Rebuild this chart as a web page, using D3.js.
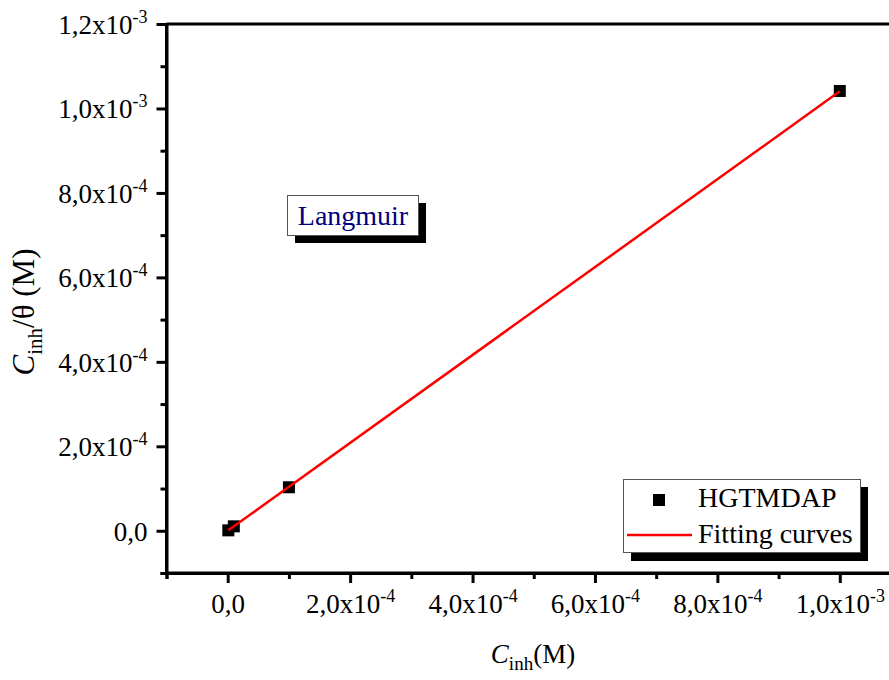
<!DOCTYPE html>
<html>
<head>
<meta charset="utf-8">
<script src="https://cdn.jsdelivr.net/npm/d3@7"></script>
<style>
  body { margin: 0; background: #fff; }
  svg { display: block; }
  text { font-family: "Liberation Serif", "Times New Roman", serif; fill: #000; }
</style>
</head>
<body>
<div id="chart"></div>
<script>
// data
var conc = [1e-6, 1e-5, 1e-4, 1e-3];              // C_inh (M)
var ratio = [1.0e-6, 1.05e-5, 1.03e-4, 1.0414e-3]; // C_inh/theta (M)
var fitSlope = 1.0405;
var fitIntercept = 0;

var xMajor = [0, 2e-4, 4e-4, 6e-4, 8e-4, 1e-3];
var xMinor = [-1e-4, 1e-4, 3e-4, 5e-4, 7e-4, 9e-4, 1.1e-3];
var yMajor = [0, 2e-4, 4e-4, 6e-4, 8e-4, 1e-3, 1.2e-3];
var yMinor = [-1e-4, 1e-4, 3e-4, 5e-4, 7e-4, 9e-4, 1.1e-3];

var serif = "'Liberation Serif', 'Times New Roman', serif";
var svgWidth = 889;
var svgHeight = 680;

var svg = d3.select("#chart")
  .append("svg")
  .attr("width", svgWidth)
  .attr("height", svgHeight)
  .attr("font-family", serif);

var x = d3.scaleLinear()
  .domain([-1e-4, 1.1e-3])
  .range([166.5, 901]);

var y = d3.scaleLinear()
  .domain([-1e-4, 1.2e-3])
  .range([573, 24]);

// "1,2x10^-3" style labels
function sciLabel(sel) {
  sel.each(function(d) {
    var t = d3.select(this).text("");
    if (d === 0) { t.append("tspan").text("0,0"); return; }
    var e = Math.floor(Math.log10(Math.abs(d)) + 1e-9);
    var m = d / Math.pow(10, e);
    t.append("tspan").text(m.toFixed(1).replace(".", ",") + "x10");
    t.append("tspan").attr("dy", -11).attr("font-size", 18).text(e);
  });
}

// y axis
var yAxis = svg.append("g")
  .attr("transform", "translate(166.5,0)")
  .call(d3.axisLeft(y).tickValues(yMajor).tickSize(10).tickPadding(9).tickFormat(""));
yAxis.append("g")
  .call(d3.axisLeft(y).tickValues(yMinor).tickSize(6).tickFormat(""));
yAxis.attr("font-family", serif);
yAxis.selectAll("line, path").attr("stroke", "#000").attr("stroke-width", 3);
yAxis.select(".domain").attr("d", "M0," + y(-1e-4) + "V" + y(1.2e-3));
yAxis.selectAll("g.tick").filter(function(d) { return yMajor.indexOf(d) >= 0; })
  .append("text")
  .attr("x", -19)
  .attr("dy", "0.35em")
  .attr("text-anchor", "end")
  .attr("font-size", 27)
  .each(function(d) { sciLabel(d3.select(this)); });

// x axis
var xAxis = svg.append("g")
  .attr("transform", "translate(0,573)")
  .call(d3.axisBottom(x).tickValues(xMajor).tickSize(10).tickFormat(""));
xAxis.append("g")
  .call(d3.axisBottom(x).tickValues(xMinor).tickSize(6).tickFormat(""));
xAxis.attr("font-family", serif);
xAxis.selectAll("line, path").attr("stroke", "#000").attr("stroke-width", 3);
xAxis.select(".domain").attr("d", "M" + x(-1e-4) + ",0H" + x(1.1e-3));
xAxis.selectAll("g.tick").filter(function(d) { return xMajor.indexOf(d) >= 0; })
  .append("text")
  .attr("y", 40)
  .attr("text-anchor", "middle")
  .attr("font-size", 27)
  .each(function(d) { sciLabel(d3.select(this)); });

// top frame
svg.append("line")
  .attr("x1", x(-1e-4)).attr("x2", x(1.1e-3))
  .attr("y1", y(1.2e-3)).attr("y2", y(1.2e-3))
  .attr("stroke", "#000").attr("stroke-width", 3);

// points
var fitX = [conc[0], conc[conc.length - 1]];
svg.selectAll("rect.pt")
  .data(conc)
  .enter()
  .append("rect")
  .attr("class", "pt")
  .attr("x", (d, i) => x(d) - 6)
  .attr("y", (d, i) => y(ratio[i]) - 6)
  .attr("width", 12)
  .attr("height", 12)
  .attr("fill", "#000");

// fit line, drawn over the points like the original
svg.append("line")
  .attr("x1", x(fitX[0])).attr("y1", y(fitSlope * fitX[0] + fitIntercept))
  .attr("x2", x(fitX[1])).attr("y2", y(fitSlope * fitX[1] + fitIntercept))
  .attr("stroke", "#ff0000").attr("stroke-width", 2.5);

// axis titles
var xt = svg.append("text")
  .attr("x", 533).attr("y", 663)
  .attr("text-anchor", "middle")
  .attr("font-size", 27);
xt.append("tspan").attr("font-style", "italic").text("C");
xt.append("tspan").attr("font-size", 19).attr("dy", 7).text("inh");
xt.append("tspan").attr("dy", -7).text("(M)");

var yt = svg.append("text")
  .attr("transform", "translate(34,312) rotate(-90)")
  .attr("text-anchor", "middle")
  .attr("font-size", 31);
yt.append("tspan").attr("font-style", "italic").text("C");
yt.append("tspan").attr("font-size", 21).attr("dy", 8).text("inh");
yt.append("tspan").attr("dy", -8).text("/\u03b8 (M)");

// Langmuir label box
svg.append("rect")
  .attr("x", 295).attr("y", 203).attr("width", 131).attr("height", 40)
  .attr("fill", "#000");
svg.append("rect")
  .attr("x", 287.5).attr("y", 195.5).attr("width", 131).attr("height", 40)
  .attr("fill", "#fff").attr("stroke", "#555").attr("stroke-width", 1);
svg.append("text")
  .attr("x", 353).attr("y", 225)
  .attr("text-anchor", "middle")
  .attr("font-size", 28)
  .style("fill", "#000080")
  .text("Langmuir");

// legend
var lg = svg.append("g");
lg.append("rect")
  .attr("x", 631).attr("y", 487).attr("width", 237).attr("height", 74)
  .attr("fill", "#000");
lg.append("rect")
  .attr("x", 623.5).attr("y", 479.5).attr("width", 237).attr("height", 73)
  .attr("fill", "#fff").attr("stroke", "#555").attr("stroke-width", 1);
lg.append("rect")
  .attr("x", 653).attr("y", 494).attr("width", 12).attr("height", 12)
  .attr("fill", "#000");
lg.append("text")
  .attr("x", 698).attr("y", 507)
  .attr("font-size", 28)
  .text("HGTMDAP");
lg.append("line")
  .attr("x1", 627).attr("x2", 692)
  .attr("y1", 535).attr("y2", 535)
  .attr("stroke", "#ff0000").attr("stroke-width", 2.5);
lg.append("text")
  .attr("x", 698).attr("y", 543)
  .attr("font-size", 28)
  .text("Fitting curves");
</script>
</body>
</html>
